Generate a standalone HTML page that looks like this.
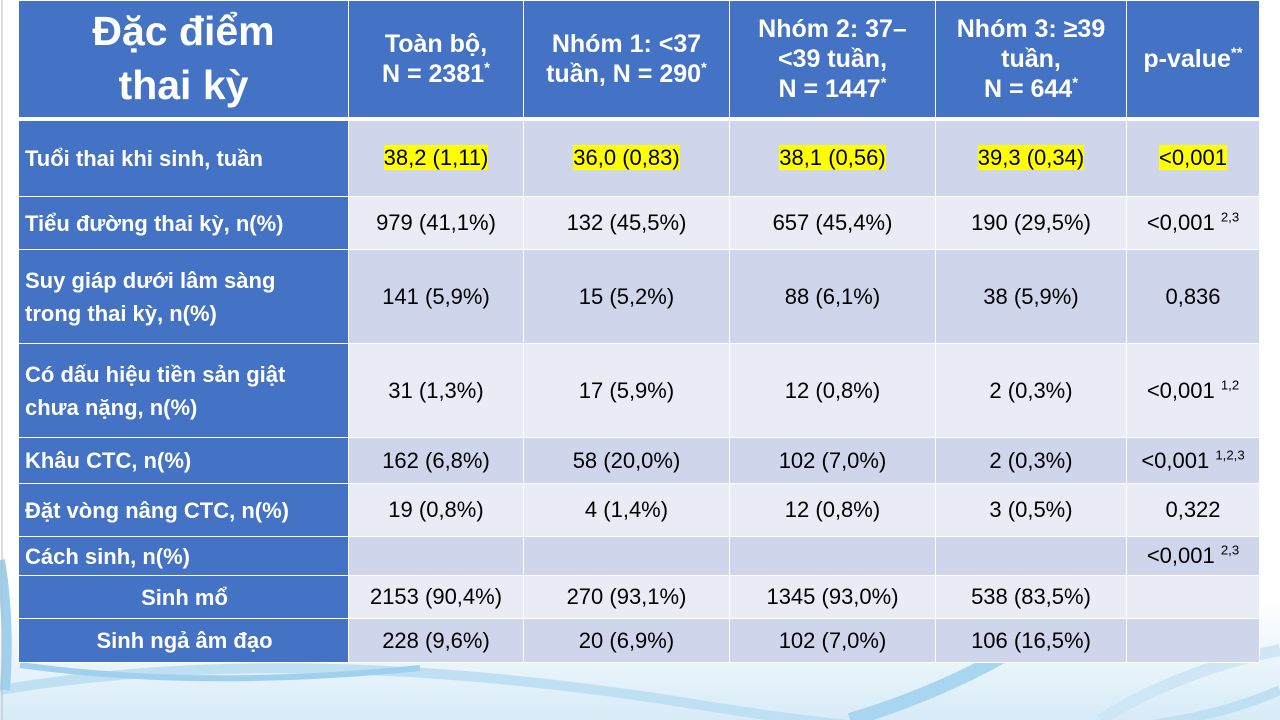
<!DOCTYPE html>
<html><head><meta charset="utf-8">
<style>
html,body{margin:0;padding:0;}
body{width:1280px;height:720px;position:relative;overflow:hidden;background:#fff;font-family:"Liberation Sans",Arial,sans-serif;}
#bg{position:absolute;left:0;top:0;width:1280px;height:720px;}
table{position:absolute;left:18px;top:0;border-collapse:collapse;table-layout:fixed;width:1241px;}
td,th{border:1px solid #fff;padding:0 4px;text-align:center;vertical-align:middle;font-size:22px;color:#000;}
th{background:#4472c4;color:#fff;font-weight:bold;font-size:25px;line-height:1.2;border-bottom:4px solid #fff;}
th.title{font-size:41px;line-height:1.3;}
td.lab{background:#4472c4;color:#fff;font-weight:bold;text-align:left;padding-left:6px;font-size:22px;line-height:1.5;}
td.lab.c{text-align:center;}
tr.d td:not(.lab){background:#cfd5ea;}
tr.l td:not(.lab){background:#e9ebf5;}
.hl{background:#ffff00;}
sup{font-size:60%;vertical-align:super;line-height:0;}
</style></head><body>
<svg id="bg" viewBox="0 0 1280 720">
<defs><linearGradient id="g" x1="0" y1="0" x2="0" y2="1"><stop offset="0" stop-color="#fff"/><stop offset="1" stop-color="#d7ebf7"/></linearGradient></defs>
<rect x="0" y="600" width="1280" height="120" fill="url(#g)"/>
<path d="M0 690 Q300 640 700 705 T1280 690" stroke="#bfe0f3" stroke-width="10" fill="none"/>
<path d="M20 665 Q200 690 420 668" stroke="#9fd1ee" stroke-width="6" fill="none"/>
<path d="M850 720 Q950 690 1030 640" stroke="#a8d6f0" stroke-width="14" fill="none"/>
<path d="M1100 720 Q1180 670 1280 650" stroke="#cfe7f5" stroke-width="12" fill="none"/>
<path d="M0 560 Q10 620 5 690" stroke="#9fd1ee" stroke-width="10" fill="none"/>
<line x1="2" y1="0" x2="2" y2="720" stroke="#bbb" stroke-width="1"/>
</svg>
<table>
<colgroup><col style="width:330px"><col style="width:175px"><col style="width:206px"><col style="width:206px"><col style="width:191px"><col style="width:133px"></colgroup>
<tr style="height:118px">
<th class="title">Đặc điểm<br>thai kỳ</th>
<th>Toàn bộ,<br>N = 2381<sup>*</sup></th>
<th>Nhóm 1: &lt;37<br>tuần, N = 290<sup>*</sup></th>
<th>Nhóm 2: 37–<br>&lt;39 tuần,<br>N = 1447<sup>*</sup></th>
<th>Nhóm 3: ≥39<br>tuần,<br>N = 644<sup>*</sup></th>
<th>p-value<sup>**</sup></th>
</tr>
<tr class="d" style="height:78px">
<td class="lab">Tuổi thai khi sinh, tuần</td><td><span class="hl">38,2 (1,11)</span></td><td><span class="hl">36,0 (0,83)</span></td><td><span class="hl">38,1 (0,56)</span></td><td><span class="hl">39,3 (0,34)</span></td><td><span class="hl">&lt;0,001</span></td></tr>
<tr class="l" style="height:53px">
<td class="lab">Tiểu đường thai kỳ, n(%)</td><td>979 (41,1%)</td><td>132 (45,5%)</td><td>657 (45,4%)</td><td>190 (29,5%)</td><td>&lt;0,001 <sup>2,3</sup></td></tr>
<tr class="d" style="height:94px">
<td class="lab">Suy giáp dưới lâm sàng<br>trong thai kỳ, n(%)</td><td>141 (5,9%)</td><td>15 (5,2%)</td><td>88 (6,1%)</td><td>38 (5,9%)</td><td>0,836</td></tr>
<tr class="l" style="height:94px">
<td class="lab">Có dấu hiệu tiền sản giật<br>chưa nặng, n(%)</td><td>31 (1,3%)</td><td>17 (5,9%)</td><td>12 (0,8%)</td><td>2 (0,3%)</td><td>&lt;0,001 <sup>1,2</sup></td></tr>
<tr class="d" style="height:46px">
<td class="lab">Khâu CTC, n(%)</td><td>162 (6,8%)</td><td>58 (20,0%)</td><td>102 (7,0%)</td><td>2 (0,3%)</td><td>&lt;0,001 <sup>1,2,3</sup></td></tr>
<tr class="l" style="height:53px">
<td class="lab">Đặt vòng nâng CTC, n(%)</td><td>19 (0,8%)</td><td>4 (1,4%)</td><td>12 (0,8%)</td><td>3 (0,5%)</td><td>0,322</td></tr>
<tr class="d" style="height:39px">
<td class="lab">Cách sinh, n(%)</td><td></td><td></td><td></td><td></td><td>&lt;0,001 <sup>2,3</sup></td></tr>
<tr class="l" style="height:43px">
<td class="lab c">Sinh mổ</td><td>2153 (90,4%)</td><td>270 (93,1%)</td><td>1345 (93,0%)</td><td>538 (83,5%)</td><td></td></tr>
<tr class="d" style="height:44px">
<td class="lab c">Sinh ngả âm đạo</td><td>228 (9,6%)</td><td>20 (6,9%)</td><td>102 (7,0%)</td><td>106 (16,5%)</td><td></td></tr>
</table>
</body></html>
